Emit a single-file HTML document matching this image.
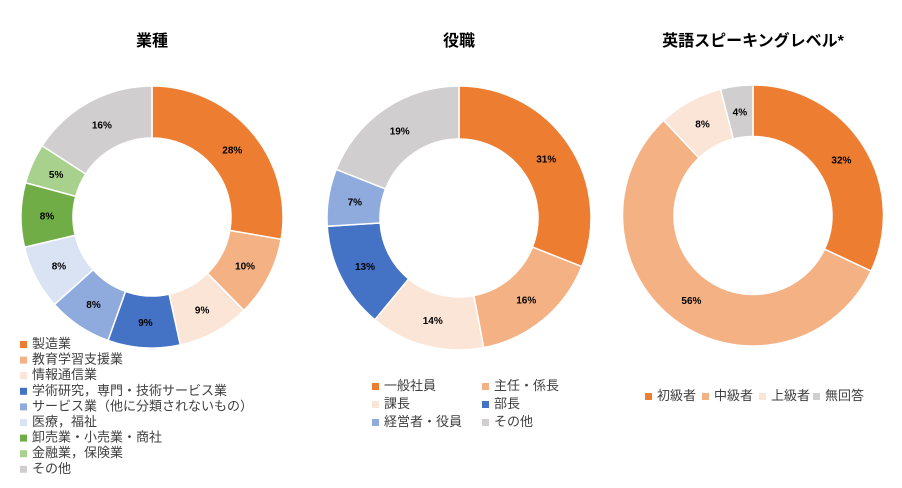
<!DOCTYPE html>
<html><head><meta charset="utf-8"><style>
body{margin:0;background:#fff;width:902px;height:483px;overflow:hidden;font-family:"Liberation Sans","Noto Sans CJK JP",sans-serif}
svg text{font-family:"Liberation Sans","Noto Sans CJK JP",sans-serif}
</style></head><body>
<svg id="c" width="902" height="483"></svg>
<script>
const colors=["#ED7D31","#F4B183","#FBE5D6","#4472C4","#8FAADC","#DAE3F3","#70AD47","#A9D18E","#D0CECE"];
const industryCats=["製造業","教育学習支援業","情報通信業","学術研究，専門・技術サービス業","サービス業（他に分類されないもの）","医療，福祉","卸売業・小売業・商社","金融業，保険業","その他"];
const industryVals=[28,10,9,9,8,8,8,5,16];
const roleCats=["一般社員","主任・係長","課長","部長","経営者・役員","その他"];
const roleVals=[31,16,14,13,7,19];
const roleColors=[0,1,2,3,4,8];
const levelCats=["初級者","中級者","上級者","無回答"];
const levelVals=[32,56,8,4];
const levelColors=[0,1,2,8];
const NS="http://www.w3.org/2000/svg";
const svg=document.getElementById('c');
function mk(t,a,p){const e=document.createElementNS(NS,t);for(const k in a)e.setAttribute(k,a[k]);(p||svg).appendChild(e);return e;}
function donut(name,title,vals,cidx,cx,cy,R,r){
  const g=mk('g',{});
  
  
  const tt=mk('text',{x:cx,y:46,'text-anchor':'middle','font-size':16,'font-weight':'bold',fill:'#000'},g);
  tt.textContent=title;
  
  
  const tot=vals.reduce((a,b)=>a+b,0);let a0=0;
  vals.forEach((v,i)=>{
    const a1=a0+v/tot*2*Math.PI;
    const P=(rad,a)=>[cx+rad*Math.sin(a),cy-rad*Math.cos(a)];
    const [x1,y1]=P(R,a0),[x2,y2]=P(R,a1),[x3,y3]=P(r,a1),[x4,y4]=P(r,a0);
    const lg=(a1-a0)>Math.PI?1:0;
    const p=mk('path',{d:`M${x1},${y1}A${R},${R} 0 ${lg} 1 ${x2},${y2}L${x3},${y3}A${r},${r} 0 ${lg} 0 ${x4},${y4}Z`,fill:colors[cidx[i]],stroke:'#fff','stroke-width':1.5},g);
    
    
    const am=(a0+a1)/2,[lx,ly]=P((R+r)/2,am);
    const t=mk('text',{x:lx,y:ly+4,'text-anchor':'middle','font-size':10,'font-weight':'bold',fill:'#000'},g);
    t.textContent=v+'%';
    
    
    a0=a1;
  });
}
function legItem(x,y,ci,label,name){
  const g=mk('g',{});
  
  
  mk('rect',{x:x,y:y-7,width:7,height:7,fill:colors[ci]},g);
  const t=mk('text',{x:x+12,y:y,'font-size':13,fill:'#404040'},g);
  t.textContent=label;
}
donut('industry-donut','業種',industryVals,[0,1,2,3,4,5,6,7,8],152,217,131,79);
donut('role-donut','役職',roleVals,roleColors,459,218,132,79);
donut('level-donut','英語スピーキングレベル*',levelVals,levelColors,753,215.5,130.5,79);
industryCats.forEach((c,i)=>legItem(20,348+i*15.6,i,c,'industry-legend-entry-'+i));
roleCats.forEach((c,i)=>legItem(372+(i%2)*110,390+Math.floor(i/2)*18,roleColors[i],c,'role-legend-entry-'+i));
const lx=[645,702,759,813];
levelCats.forEach((c,i)=>legItem(lx[i],400,levelColors[i],c,'level-legend-entry-'+i));
</script>
</body></html>
